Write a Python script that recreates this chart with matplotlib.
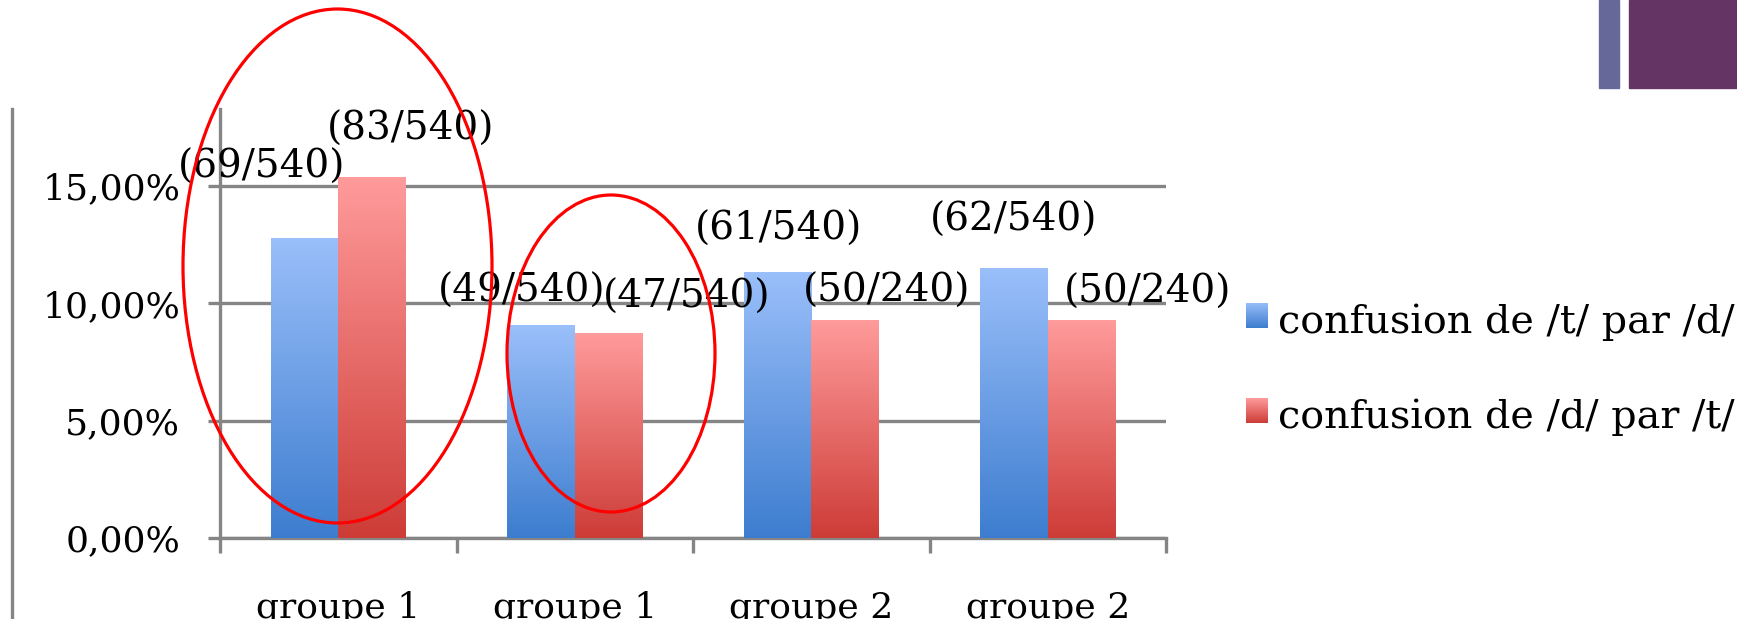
import numpy as np
import matplotlib
matplotlib.use("Agg")
import matplotlib.pyplot as plt
from matplotlib.patches import Ellipse, Rectangle
from matplotlib.colors import to_rgb

# data (percent)
categories = ["groupe 1", "groupe 1", "groupe 2", "groupe 2"]
t_par_d = [12.78, 9.07, 11.30, 11.48]
d_par_t = [15.37, 8.70, 9.26, 9.26]
labels_t = ["(69/540)", "(49/540)", "(61/540)", "(62/540)"]
labels_d = ["(83/540)", "(47/540)", "(50/240)", "(50/240)"]
series_names = ["confusion de /t/ par /d/", "confusion de /d/ par /t/"]
ytick_values = [0, 5, 10, 15]
ytick_labels = ["0,00%", "5,00%", "10,00%", "15,00%"]

# label positions (left edge x, centre y) in data units, as placed on the slide
pos_t = [(-0.68, 15.8), (0.42, 10.52), (1.51, 13.17), (2.50, 13.53)]
pos_d = [(-0.05, 17.43), (1.12, 10.27), (1.965, 10.52), (3.07, 10.48)]

W, H = 1737, 619
GRAY = "#858585"
FONT = "DejaVu Serif"
plt.rcParams['font.family'] = FONT

fig = plt.figure(figsize=(W / 100, H / 100), dpi=100)
ax = fig.add_axes([220 / W, 1 - 538 / H, (1166 - 220) / W, (538 - 109) / H])

blue = ("#9ABFFA", "#3D7DCF")
red = ("#FF9B9B", "#CD3C37")


def gradient(c_top, c_bot, n=256):
    a = np.array(to_rgb(c_top))
    b = np.array(to_rgb(c_bot))
    t = np.linspace(0, 1, n)[:, None]
    return (a * (1 - t) + b * t)[:, None, :]


x = np.arange(len(categories))
bw = 0.285
bars_t = ax.bar(x - bw / 2, t_par_d, bw, color=blue[1], zorder=2)
bars_d = ax.bar(x + bw / 2, d_par_t, bw, color=red[1], zorder=2)

for bars, cols in ((bars_t, blue), (bars_d, red)):
    for b in bars:
        x0, w, h = b.get_x(), b.get_width(), b.get_height()
        ax.imshow(gradient(*cols), extent=(x0, x0 + w, 0, h), aspect="auto",
                  origin="upper", zorder=3, interpolation="bilinear")

ax.set_xlim(-0.5, 3.5)
ax.set_ylim(0, 18.28)

for lab, (px, py) in zip(labels_t, pos_t):
    ax.text(px, py, lab, ha="left", va="center", fontsize=28, clip_on=False, zorder=5)
for lab, (px, py) in zip(labels_d, pos_d):
    ax.text(px, py, lab, ha="left", va="center", fontsize=28, clip_on=False, zorder=5)

ax.set_yticks(ytick_values)
ax.set_yticklabels(ytick_labels, fontsize=26)
ax.set_xticks(x)
ax.set_xticklabels(categories, fontsize=26)
ax.set_xticks([-0.5, 0.5, 1.5, 2.5, 3.5], minor=True)
ax.tick_params(axis="x", which="major", length=0, pad=38)
ax.tick_params(axis="x", which="minor", length=11, width=2.4, color=GRAY)
ax.tick_params(axis="y", length=8.6, width=2.4, color=GRAY, pad=20)

ax.yaxis.grid(True, color=GRAY, lw=2.4)
ax.set_axisbelow(True)
for s in ("top", "right"):
    ax.spines[s].set_visible(False)
for s in ("left", "bottom"):
    ax.spines[s].set_color(GRAY)
    ax.spines[s].set_linewidth(2.4)

# legend drawn by hand with gradient squares
for i, (name, cols) in enumerate(zip(series_names, (blue, red))):
    top = 303 + i * 95
    lax = fig.add_axes([1246 / W, 1 - (top + 25) / H, 22 / W, 25 / H])
    lax.imshow(gradient(*cols), aspect="auto", interpolation="bilinear")
    lax.axis("off")
    fig.text(1278 / W, 1 - (333 + i * 95) / H, name, ha="left", va="baseline",
             fontsize=28.5)

# overlay in pixel units: slide decorations and hand-drawn ellipses
ov = fig.add_axes([0, 0, 1, 1], zorder=10)
ov.set_xlim(0, W)
ov.set_ylim(H, 0)
ov.axis("off")
ov.patch.set_alpha(0)
ov.add_patch(Rectangle((1599, 0), 20, 88, color="#656898"))
ov.add_patch(Rectangle((1629, 0), 108, 88, color="#633464"))
ov.plot([12, 12], [109, H], color=GRAY, lw=2.4)
ov.add_patch(Ellipse((337.5, 266), 309, 514, fill=False, ec="#ff0000", lw=2.3))
ov.add_patch(Ellipse((611, 353.5), 208, 317, fill=False, ec="#ff0000", lw=2.3))

fig.savefig("out.png", dpi=100)
